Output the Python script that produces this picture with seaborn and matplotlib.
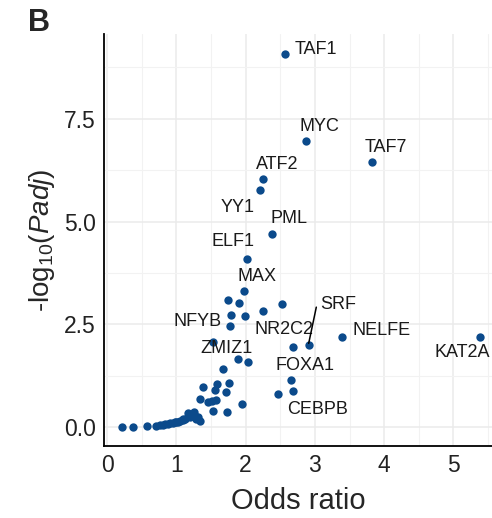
import numpy as np
import pandas as pd
import matplotlib
matplotlib.use("Agg")
import matplotlib.pyplot as plt
import seaborn as sns

# enrichment results: odds ratio vs -log10(Padj)
genes = ["TAF1", "MYC", "TAF7", "ATF2", "YY1", "PML", "ELF1", "MAX",
         "SRF", "NR2C2", "NELFE", "KAT2A", "FOXA1", "CEBPB", "NFYB", "ZMIZ1"]
gene_or = [2.57, 2.87, 3.82, 2.25, 2.21, 2.38, 2.02, 1.97,
           2.91, 2.69, 3.39, 5.38, 2.66, 2.69, 1.78, 1.53]
gene_padj = [9.08, 6.97, 6.45, 6.03, 5.76, 4.71, 4.10, 3.32,
             1.99, 1.96, 2.20, 2.20, 1.16, 0.89, 2.46, 2.08]

# unlabelled factors
other_or = [1.75, 1.90, 1.79, 1.99, 2.52, 2.25, 1.89, 2.03, 2.47, 1.95,
            1.67, 1.58, 1.76, 1.39, 1.56, 1.72, 1.34, 1.46, 1.51, 1.57,
            1.53, 1.73,
            0.21, 0.37, 0.57, 0.71, 0.76, 0.80, 0.84, 0.88, 0.91, 0.95,
            0.98, 1.02, 1.05, 1.09, 1.13, 1.17, 1.20, 1.25, 1.29, 1.34,
            1.22, 1.27, 1.10, 1.00, 1.31]
other_padj = [3.09, 3.03, 2.73, 2.71, 2.99, 2.82, 1.65, 1.58, 0.81, 0.56,
              1.41, 1.04, 1.07, 0.97, 0.91, 0.85, 0.68, 0.62, 0.64, 0.66,
              0.40, 0.38,
              0.00, 0.00, 0.04, 0.04, 0.06, 0.06, 0.07, 0.08, 0.10, 0.11,
              0.12, 0.13, 0.15, 0.17, 0.19, 0.34, 0.24, 0.38, 0.19, 0.16,
              0.30, 0.28, 0.20, 0.14, 0.24]

# label positions (text centres, data units)
label_x = [3.01, 3.07, 4.03, 2.45, 1.89, 2.62, 1.82, 2.16,
           3.34, 2.56, 3.96, 5.12, 2.86, 3.04, 1.31, 1.73]
label_y = [9.18, 7.32, 6.81, 6.38, 5.35, 5.07, 4.52, 3.66,
           2.99, 2.38, 2.36, 1.81, 1.51, 0.44, 2.56, 1.92]

df = pd.DataFrame({
    "odds_ratio": gene_or + other_or,
    "padj": gene_padj + other_padj,
})

sns.set_style("whitegrid")
plt.rcParams["font.family"] = ["Liberation Sans", "DejaVu Sans"]
plt.rcParams["mathtext.fontset"] = "custom"
plt.rcParams["mathtext.rm"] = "Liberation Sans"
plt.rcParams["mathtext.it"] = "Liberation Sans:italic"

fig = plt.figure(figsize=(4.92, 5.18), dpi=100)
ax = fig.add_axes([0.212, 0.139, 0.79, 0.795])

sns.scatterplot(data=df, x="odds_ratio", y="padj", ax=ax, color="#0B4A8B",
                s=36, linewidth=0, zorder=3)

for g, lx, ly in zip(genes, label_x, label_y):
    ax.text(lx, ly, g, ha="center", va="center", fontsize=13,
            color="#1a1a1a", zorder=4)

# leader line for SRF
i = genes.index("SRF")
ax.plot([gene_or[i], 3.02], [gene_padj[i] + 0.05, 2.92], color="black",
        lw=1.1, zorder=4)

ax.set_xlim(-0.04, 5.57)
ax.set_ylim(-0.455, 9.555)
ax.set_xticks([0, 1, 2, 3, 4, 5])
ax.set_yticks([0, 2.5, 5, 7.5])
ax.set_yticklabels(["0.0", "2.5", "5.0", "7.5"])
ax.set_xticks(np.arange(0.5, 5.6, 1), minor=True)
ax.set_yticks([1.25, 3.75, 6.25, 8.75], minor=True)

ax.grid(which="major", color="#EBEBEB", lw=1.1)
ax.grid(which="minor", color="#F2F2F2", lw=0.8)
for side in ["top", "right"]:
    ax.spines[side].set_visible(False)
for side in ["left", "bottom"]:
    ax.spines[side].set_color("black")
    ax.spines[side].set_linewidth(1.3)

ax.tick_params(which="major", length=4, width=1.1, color="black",
               labelsize=16.5, labelcolor="#222222", pad=2)
ax.tick_params(which="minor", length=0)

ax.set_xlabel("Odds ratio", fontsize=21, labelpad=7)
ax.set_ylabel(r"-log$_{\mathregular{10}}$($\mathit{Padj}$)", fontsize=20,
              labelpad=5)

fig.text(0.057, 0.955, "B", fontsize=22, fontweight="bold", ha="left",
         va="center")

fig.savefig("out.png", dpi=100)
